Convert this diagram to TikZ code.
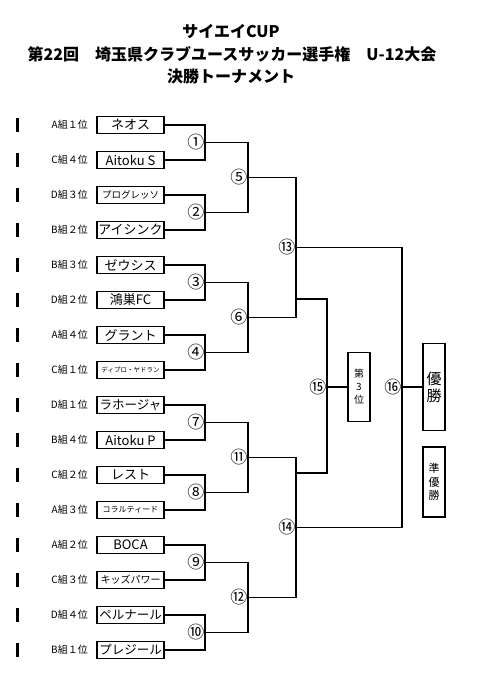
\documentclass[tikz,border=0pt]{standalone}
\usepackage{fontspec}
\setmainfont{Noto Sans CJK JP}

\tikzstyle{team} = [draw, line width=1.4pt, minimum width=67pt, minimum height=17pt, inner sep=0pt]
\tikzstyle{grp} = [anchor=east, inner sep=0pt, font=\fontsize{10}{10}\selectfont]
\tikzstyle{bracket} = [draw, line width=1.4pt]
\tikzstyle{matchno} = [left, inner sep=0.5pt, font=\fontsize{17}{17}\selectfont]
\tikzstyle{result} = [draw, line width=1.4pt, minimum width=22pt, align=center, inner sep=0pt]
\tikzstyle{headline} = [font=\bfseries\fontsize{16}{16}\selectfont]

\begin{document}
\begin{tikzpicture}[x=1pt, y=-1pt]
    \useasboundingbox (0,0) rectangle (501,674);
    % title
    \node[headline] (title1) at (231,31) {サイエイCUP};
    \node[headline] (title2) at (232,54) {第22回　埼玉県クラブユースサッカー選手権　U-12大会};
    \node[headline] (title3) at (231,76) {決勝トーナメント};
    % teams
    \foreach \name/\y/\grp/\team/\size in {
      t1/125/A組１位/ネオス/13,
      t2/160/C組４位/Aitoku S/13,
      t3/195/D組３位/プログレッソ/9.5,
      t4/230/B組２位/アイシンク/13,
      t5/265/B組３位/ゼウシス/13,
      t6/300/D組２位/鴻巣FC/13,
      t7/335/A組４位/グラント/13,
      t8/370/C組１位/ディプロ・ヤドラン/6.5,
      t9/405/D組１位/ラホージャ/12.5,
      t10/440/B組４位/Aitoku P/13,
      t11/475/C組２位/レスト/13,
      t12/510/A組３位/コラルティード/8,
      t13/545/A組２位/BOCA/13,
      t14/580/C組３位/キッズパワー/10,
      t15/615/D組４位/ペルナール/12.5,
      t16/650/B組１位/プレジール/12.5}
    {
        \fill (16,\y-7) rectangle (19,\y+7);
        \node[grp] (g\name) at (88,\y) {\grp};
        \node[team, font=\fontsize{\size}{\size}\selectfont] (\name) at (130.5,\y) {\team};
    };
    % match points
    \foreach \m/\x/\y in {
      m1/205/142.5, m2/205/212.5, m3/205/282.5, m4/205/352.5,
      m7/205/422.5, m8/205/492.5, m9/205/562.5, m10/205/632.5,
      m5/248/177.5, m6/248/317.5, m11/248/457.5, m12/248/597.5,
      m13/296/247.5, m14/296/527.5, m15/327/387, m16/402/387,
      l13/296/299, l14/296/473}
    {
        \coordinate (\m) at (\x,\y);
    };
    % results
    \node[result, minimum height=69pt, font=\fontsize{10}{13}\selectfont] (third) at (359,387) {第\\3\\位};
    \node[result, minimum height=87pt, font=\fontsize{15}{17}\selectfont] (champ) at (434,387) {優\\勝};
    \node[result, minimum height=70pt, font=\fontsize{11}{13.5}\selectfont] (second) at (434,482) {準\\優\\勝};
    % edges
    \foreach \m/\a/\b in {
      m1/t1/t2, m2/t3/t4, m3/t5/t6, m4/t7/t8,
      m7/t9/t10, m8/t11/t12, m9/t13/t14, m10/t15/t16}
    {
        \draw[bracket] (\a.east) -| (\m) |- (\b.east);
    };
    \foreach \m/\a/\b in {
      m5/m1/m2, m6/m3/m4, m11/m7/m8, m12/m9/m10,
      m13/m5/m6, m14/m11/m12, m16/m13/m14, m15/l13/l14}
    {
        \draw[bracket] (\a) -| (\m) |- (\b);
    };
    \draw[bracket] (m15) -- (third.west);
    \draw[bracket] (m16) -- (champ.west);
    % match numbers
    \foreach \m/\num in {
      m1/①, m2/②, m3/③, m4/④, m5/⑤, m6/⑥, m7/⑦, m8/⑧,
      m9/⑨, m10/⑩, m11/⑪, m12/⑫, m13/⑬, m14/⑭, m15/⑮, m16/⑯}
    {
        \node[matchno] (n\m) at (\m) {\num};
    };
\end{tikzpicture}
\end{document}
